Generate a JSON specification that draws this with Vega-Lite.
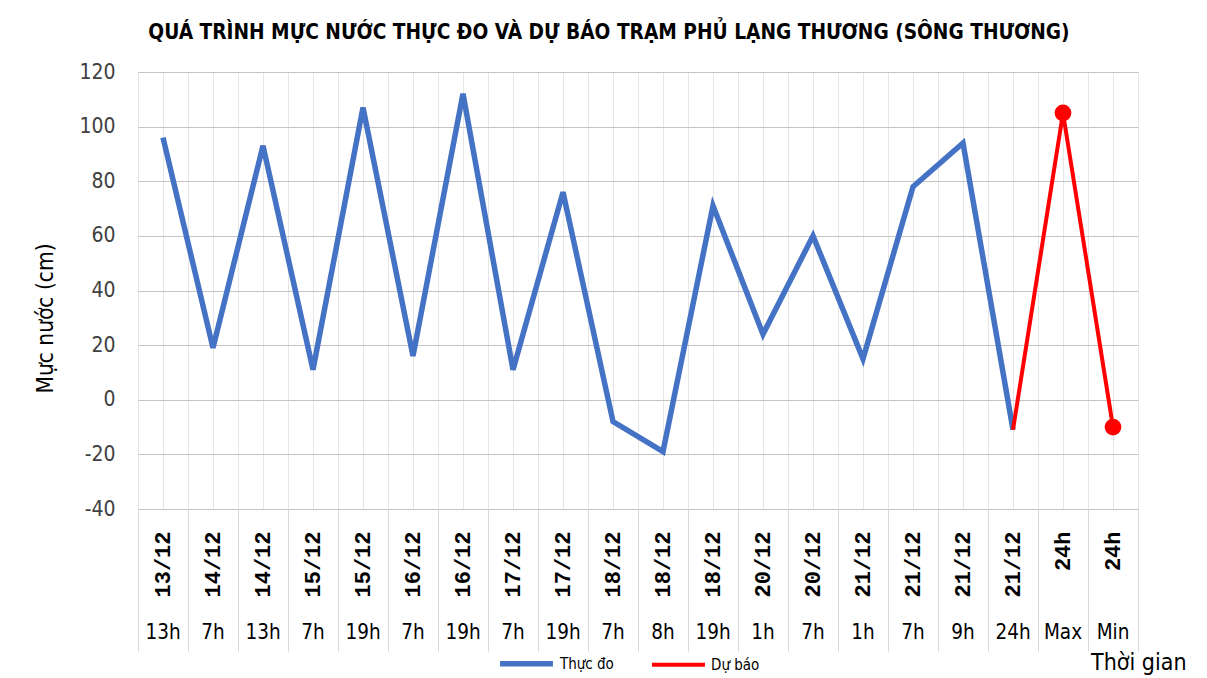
{
  "$schema": "https://vega.github.io/schema/vega-lite/v6.json",
  "width": 1000,
  "height": 437,
  "autosize": "none",
  "padding": {"left": 138, "top": 72, "right": 69, "bottom": 169},
  "background": "white",
  "config": {"view": {"stroke": null}},
  "title": {
    "text": "QUÁ TRÌNH MỰC NƯỚC THỰC ĐO VÀ DỰ BÁO TRẠM PHỦ LẠNG THƯƠNG (SÔNG THƯƠNG)",
    "font": "DejaVu Sans Condensed, sans-serif",
    "fontSize": 20.7,
    "fontWeight": "bold",
    "color": "#000000",
    "anchor": "middle",
    "dx": -29,
    "offset": 17
  },
  "data": {
    "values": [
      {"t": "13h|13/12", "s": "Thực đo", "v": 96},
      {"t": "7h|14/12", "s": "Thực đo", "v": 19},
      {"t": "13h|14/12", "s": "Thực đo", "v": 93},
      {"t": "7h|15/12", "s": "Thực đo", "v": 11},
      {"t": "19h|15/12", "s": "Thực đo", "v": 107},
      {"t": "7h|16/12", "s": "Thực đo", "v": 16},
      {"t": "19h|16/12", "s": "Thực đo", "v": 112},
      {"t": "7h|17/12", "s": "Thực đo", "v": 11},
      {"t": "19h|17/12", "s": "Thực đo", "v": 76},
      {"t": "7h|18/12", "s": "Thực đo", "v": -8},
      {"t": "8h|18/12", "s": "Thực đo", "v": -19},
      {"t": "19h|18/12", "s": "Thực đo", "v": 71},
      {"t": "1h|20/12", "s": "Thực đo", "v": 24},
      {"t": "7h|20/12", "s": "Thực đo", "v": 60},
      {"t": "1h|21/12", "s": "Thực đo", "v": 15},
      {"t": "7h|21/12", "s": "Thực đo", "v": 78},
      {"t": "9h|21/12", "s": "Thực đo", "v": 94},
      {"t": "24h|21/12", "s": "Thực đo", "v": -11},
      {"t": "24h|21/12", "s": "Dự báo", "v": -11},
      {"t": "Max|24h", "s": "Dự báo", "v": 105},
      {"t": "Min|24h", "s": "Dự báo", "v": -10}
    ]
  },
  "encoding": {
    "y": {
      "field": "v",
      "type": "quantitative",
      "scale": {"domain": [-40, 120], "nice": false, "zero": false},
      "axis": {
        "values": [-40, -20, 0, 20, 40, 60, 80, 100, 120],
        "labelExpr": "'' + datum.value",
        "grid": true,
        "gridColor": "#c4c4c4",
        "domain": false,
        "ticks": false,
        "labelFont": "DejaVu Sans Condensed, sans-serif",
        "labelFontSize": 21,
        "labelColor": "#404040",
        "labelPadding": 23,
        "title": "Mực nước (cm)",
        "titleFont": "DejaVu Sans Condensed, sans-serif",
        "titleFontSize": 22.5,
        "titleFontWeight": "normal",
        "titleColor": "#000000",
        "titleAngle": 270,
        "titleX": -93,
        "titleY": 246,
        "titleAlign": "center",
        "titleBaseline": "middle"
      }
    }
  },
  "layer": [
    {
      "mark": {"type": "tick", "opacity": 0},
      "encoding": {
        "x": {
          "field": "t",
          "type": "ordinal",
          "sort": null,
          "scale": {"type": "band", "paddingInner": 0, "paddingOuter": 0},
          "axis": {
            "orient": "bottom",
            "bandPosition": 1,
            "tickExtra": true,
            "grid": true,
            "gridColor": "#e6e6e6",
            "ticks": true,
            "tickSize": 142,
            "tickColor": "#d9d9d9",
            "labels": false,
            "domain": false,
            "title": null
          }
        }
      }
    },
    {
      "mark": {"type": "line"},
      "encoding": {
        "x": {
          "field": "t",
          "type": "ordinal",
          "sort": null,
          "axis": {
            "orient": "bottom",
            "bandPosition": 0.5,
            "grid": true,
            "gridColor": "#e6e6e6",
            "ticks": false,
            "domain": false,
            "labelExpr": "split(datum.value, '|')[1]",
            "labelAngle": 270,
            "labelFont": "Liberation Mono, DejaVu Sans Mono, monospace",
            "labelFontSize": 22,
            "labelFontWeight": "bold",
            "labelColor": "#000000",
            "labelPadding": 22,
            "title": null
          }
        },
        "color": {
          "field": "s",
          "type": "nominal",
          "scale": {"domain": ["Thực đo", "Dự báo"], "range": ["#4472C4", "#FF0000"]},
          "legend": {
            "orient": "none",
            "legendX": 359,
            "legendY": 562,
            "direction": "horizontal",
            "title": null,
            "symbolType": "stroke",
            "symbolSize": 2800,
            "symbolStrokeWidth": 5,
            "labelFont": "DejaVu Sans Condensed, sans-serif",
            "labelFontSize": 15,
            "labelColor": "#000000",
            "labelOffset": 4,
            "columnPadding": 30
          }
        },
        "strokeWidth": {
          "field": "s",
          "type": "nominal",
          "scale": {"domain": ["Thực đo", "Dự báo"], "range": [5.5, 4]},
          "legend": null
        }
      }
    },
    {
      "transform": [{"filter": "datum.t == 'Max|24h' || datum.t == 'Min|24h'"}],
      "mark": {"type": "point", "filled": true, "color": "#FF0000", "size": 280, "opacity": 1},
      "encoding": {
        "x": {
          "field": "t",
          "type": "ordinal",
          "sort": null,
          "axis": {
            "orient": "bottom",
            "bandPosition": 0.5,
            "grid": false,
            "ticks": false,
            "domain": false,
            "labelExpr": "split(datum.value, '|')[0]",
            "labelAngle": 0,
            "labelAlign": "center",
            "labelBaseline": "top",
            "labelFont": "DejaVu Sans Condensed, sans-serif",
            "labelFontSize": 20.5,
            "labelColor": "#000000",
            "labelPadding": 113,
            "title": "Thời gian",
            "titleFont": "DejaVu Sans Condensed, sans-serif",
            "titleFontSize": 23,
            "titleFontWeight": "normal",
            "titleColor": "#000000",
            "titleX": 1048,
            "titleY": 153,
            "titleAlign": "right",
            "titleBaseline": "middle"
          }
        }
      }
    }
  ],
  "resolve": {"axis": {"x": "independent"}}
}
